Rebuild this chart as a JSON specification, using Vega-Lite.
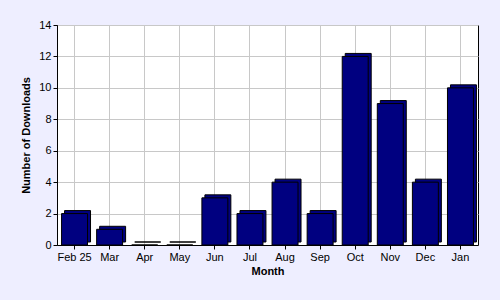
{
  "$schema": "https://vega.github.io/schema/vega-lite/v6.json",
  "width": 421,
  "height": 220,
  "autosize": {"type": "none"},
  "padding": {"left": 57, "top": 25, "right": 22, "bottom": 55},
  "background": "#EEEEFF",
  "config": {
    "view": {"fill": "white", "stroke": "black", "strokeWidth": 1},
    "font": "Liberation Sans",
    "axis": {
      "labelFont": "Liberation Sans",
      "labelFontSize": 11,
      "labelColor": "black",
      "titleFont": "Liberation Sans",
      "titleFontSize": 11,
      "titleFontWeight": "bold",
      "titleColor": "black",
      "domainColor": "black",
      "tickColor": "black",
      "tickSize": 4,
      "gridColor": "#C8C8C8",
      "gridOpacity": 1
    }
  },
  "data": {
    "values": [
      {"month": "Feb 25", "downloads": 2},
      {"month": "Mar", "downloads": 1},
      {"month": "Apr", "downloads": 0},
      {"month": "May", "downloads": 0},
      {"month": "Jun", "downloads": 3},
      {"month": "Jul", "downloads": 2},
      {"month": "Aug", "downloads": 4},
      {"month": "Sep", "downloads": 2},
      {"month": "Oct", "downloads": 12},
      {"month": "Nov", "downloads": 9},
      {"month": "Dec", "downloads": 4},
      {"month": "Jan", "downloads": 10}
    ]
  },
  "encoding": {
    "x": {
      "field": "month",
      "type": "nominal",
      "sort": null,
      "title": "Month",
      "scale": {"paddingInner": 0.26, "paddingOuter": 0.13},
      "axis": {"labelAngle": 0, "grid": true, "labelPadding": 2, "titlePadding": 3}
    },
    "y": {
      "field": "downloads",
      "type": "quantitative",
      "title": "Number of Downloads",
      "scale": {"domain": [0, 14]},
      "axis": {"values": [0, 2, 4, 6, 8, 10, 12, 14], "grid": true, "titlePadding": 7, "labelPadding": 2}
    }
  },
  "layer": [
    {
      "mark": {"type": "bar", "fill": "#000080", "stroke": "black", "strokeWidth": 1, "xOffset": 3, "yOffset": -3}
    },
    {
      "mark": {"type": "bar", "fill": "#000080", "stroke": "black", "strokeWidth": 1}
    }
  ]
}
